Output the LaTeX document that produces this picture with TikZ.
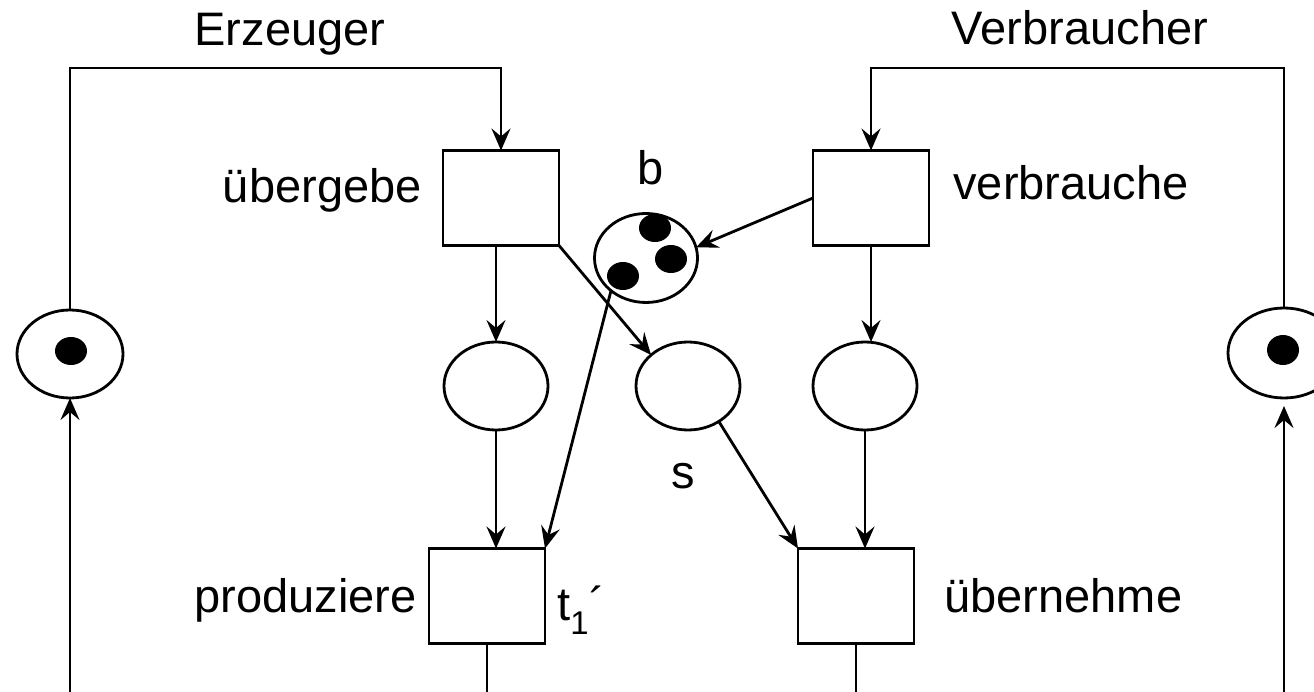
\documentclass[tikz,border=0pt]{standalone}
\usepackage{fontspec}
\setmainfont{Liberation Sans}
\usetikzlibrary{shapes.geometric, arrows.meta, positioning, calc}

\begin{document}
\begin{tikzpicture}[
    x=1pt, y=-1pt,
    line width=2.8pt,
    trans/.style={draw, minimum width=116pt, minimum height=95pt, inner sep=0pt, outer sep=0pt},
    place/.style={draw, ellipse, minimum width=104pt, minimum height=88pt, inner sep=0pt, outer sep=0pt},
    token/.style={fill, ellipse, minimum width=32pt, minimum height=28pt, inner sep=0pt},
    arrow/.style={-{Stealth[length=22pt, width=19pt, inset=8pt]}},
    lbl/.style={font=\fontsize{47}{56}\selectfont, inner sep=0pt}
]
    \clip (0,0) rectangle (1314,692);

    % Transitions
    \node[trans] (uebergebe) at (501,198) {};
    \node[trans] (verbrauche) at (871,198) {};
    \node[trans] (produziere) at (487,596) {};
    \node[trans] (uebernehme) at (856,596) {};

    % Places
    \node[place, minimum width=106pt] (pL) at (70,354) {};
    \node[place, minimum width=112pt, minimum height=90pt] (pR) at (1284,353) {};
    \node[place] (pA) at (496,386) {};
    \node[place] (s) at (688,386) {};
    \node[place] (pB) at (865,386) {};
    \node[place, minimum width=103pt, minimum height=89pt] (b) at (646,258) {};

    % Tokens
    \node[token] at (71,351) {};
    \node[token, minimum height=30pt] at (1283,350) {};
    \node[token] at (655,228) {};
    \node[token] at (671,259) {};
    \node[token] at (623,276) {};

    % Helper coordinates
    \coordinate (top) at (0,68);
    \coordinate (bot) at (0,700);

    % Loops
    \draw[arrow] (pL.north) |- (top -| uebergebe.north) -- (uebergebe.north);
    \draw[arrow] (pR.north) |- (top -| verbrauche.north) -- (verbrauche.north);
    \draw (produziere.south) -- (produziere.south |- bot);
    \draw (uebernehme.south) -- (uebernehme.south |- bot);
    \draw[arrow] (pL.south |- bot) -- (pL.south);
    \draw[arrow, shorten >=8pt] (pR.south |- bot) -- (pR.south);

    % Arcs
    \draw[arrow] (pA.north |- uebergebe.south) -- (pA.north);
    \draw[arrow] (pA.south) -- (pA.south |- produziere.north);
    \draw[arrow] (uebergebe.south east) -- (s.140);
    \draw[arrow] (b.223) -- (produziere.north east);
    \draw[arrow] (s.-49) -- (uebernehme.north west);
    \draw[arrow] (verbrauche.west) -- (b.12);
    \draw[arrow] (verbrauche.south) -- (verbrauche.south |- pB.north);
    \draw[arrow] (pB.south) -- (pB.south |- uebernehme.north);

    % Labels
    \node[lbl, anchor=base] at (290,46) {Erzeuger};
    \node[lbl, anchor=base] at (1080,45) {Verbraucher};
    \node[lbl, anchor=base east] at (423,203) {übergebe};
    \node[lbl, anchor=base west] at (952,200) {verbrauche};
    \node[lbl, anchor=base east] at (418,612) {produziere};
    \node[lbl, anchor=base west] at (943,612) {übernehme};
    \node[lbl, anchor=base west] at (556,620) {t\textsubscript{1}´};
    \node[lbl, anchor=base] at (651,185) {b};
    \node[lbl, anchor=base] at (683,488) {s};
\end{tikzpicture}
\end{document}
